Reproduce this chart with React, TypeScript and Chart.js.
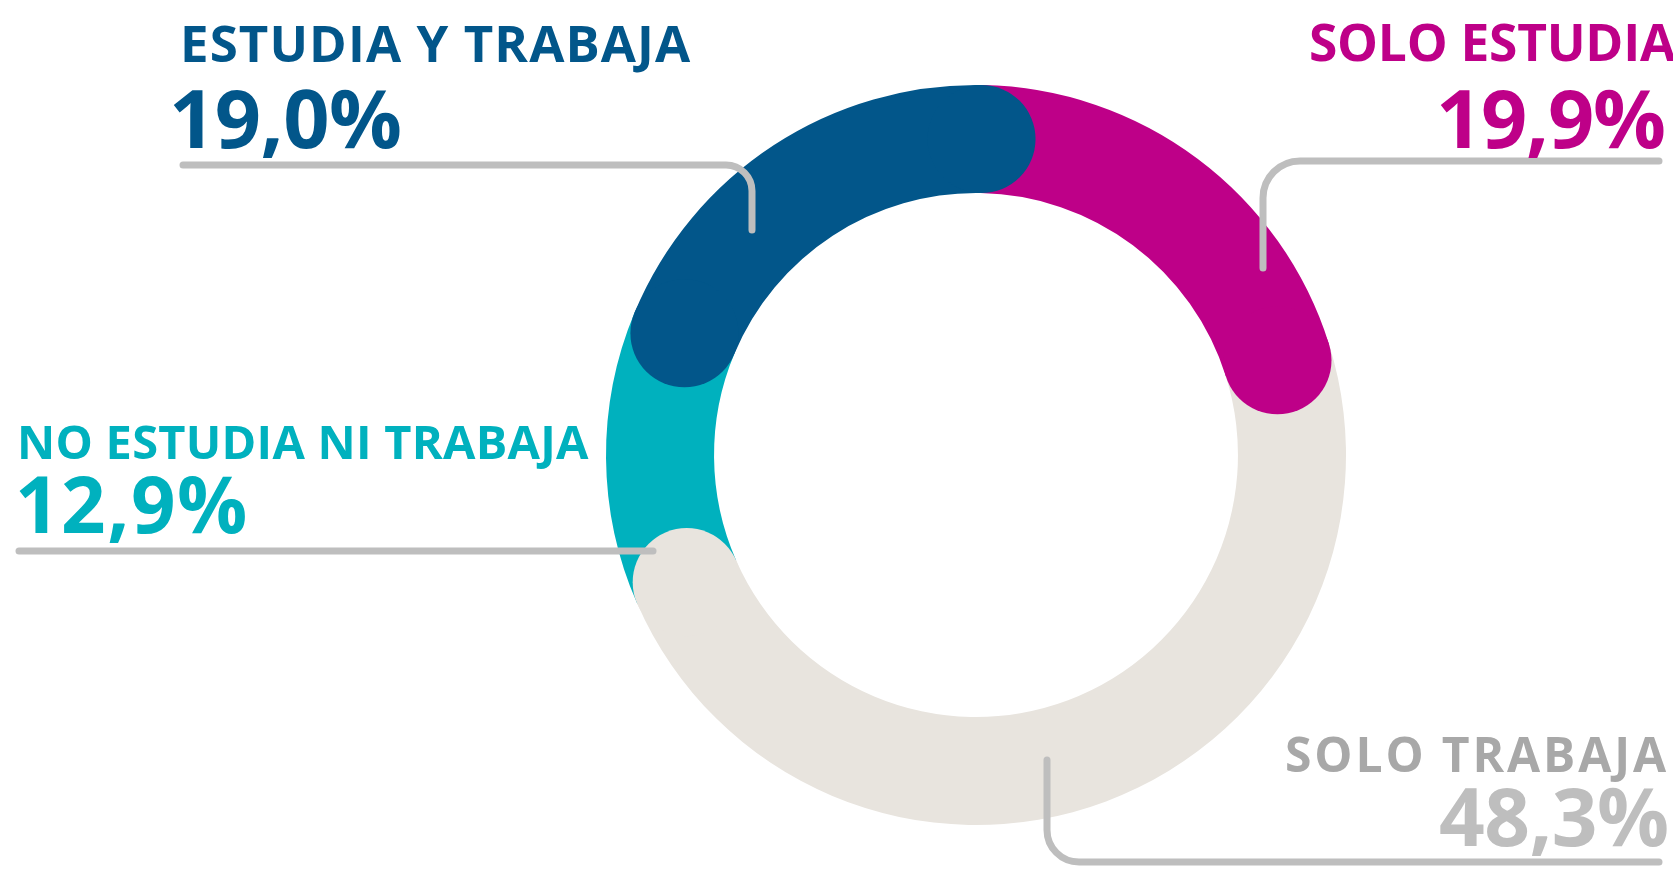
import React, { useEffect, useRef } from 'react';
import { Chart, DoughnutController, ArcElement } from 'chart.js';

Chart.register(DoughnutController, ArcElement);

// ---- data ----
const categories = ['SOLO ESTUDIA', 'SOLO TRABAJA', 'NO ESTUDIA NI TRABAJA', 'ESTUDIA Y TRABAJA'];
const values = [19.9, 48.3, 12.9, 19.0];

// ---- styles ----
const sliceColors = ['#BE0088', '#E8E4DE', '#00B1BE', '#02568A'];
const nameColors = ['#BE0088', '#A8A8A8', '#00B1BE', '#02568A'];
const valueColors = ['#BE0088', '#BEBEBE', '#00B1BE', '#02568A'];
// which ends of each slice get a round cap: [start, end]
const capEnds: [boolean, boolean][] = [
  [false, true],
  [false, true],
  [false, false],
  [true, true],
];
const capOrder = [1, 0, 3];

const W = 1673;
const H = 872;
const FONT_NAME = 'Open Sans';
const FONT = '"Open Sans", "Noto Sans", sans-serif';

// text boxes: ink left / ink right / baseline / font size / weight
type Box = { l: number; r: number; base: number; size: number; w: number };
const nameBox: Box[] = [
  { l: 1311, r: 1676, base: 62, size: 51.5, w: 700 },
  { l: 1287, r: 1667, base: 772, size: 48, w: 700 },
  { l: 21, r: 589, base: 459, size: 47, w: 700 },
  { l: 184, r: 691, base: 62, size: 51, w: 700 },
];
const valueBox: Box[] = [
  { l: 1440, r: 1664, base: 148, size: 81, w: 700 },
  { l: 1440, r: 1667, base: 846, size: 80, w: 700 },
  { l: 19, r: 245, base: 533, size: 78, w: 700 },
  { l: 173, r: 400, base: 148, size: 81, w: 700 },
];

const leaderLines: { pts: [number, number][]; r: number }[] = [
  { pts: [[183, 165], [752, 165], [752, 230]], r: 26 },
  { pts: [[1659, 161], [1263, 161], [1263, 268]], r: 37 },
  { pts: [[19, 551], [653, 551]], r: 0 },
  { pts: [[1047, 760], [1047, 862], [1659, 862]], r: 32 },
];

const fmt = (v: number) => v.toFixed(1).replace('.', ',') + '%';

let mctx: CanvasRenderingContext2D | null = null;
function fit(text: string, b: Box) {
  if (!mctx) mctx = document.createElement('canvas').getContext('2d');
  const ctx = mctx as CanvasRenderingContext2D;
  ctx.font = `${b.w} ${b.size}px "${FONT_NAME}"`;
  const m = ctx.measureText(text);
  const ink = m.actualBoundingBoxLeft + m.actualBoundingBoxRight;
  const n = Array.from(text).length;
  const spacing = n > 1 ? (b.r - b.l - ink) / (n - 1) : 0;
  const asc = m.fontBoundingBoxAscent || b.size * 1.069;
  const desc = m.fontBoundingBoxDescent || b.size * 0.293;
  const baseOff = (b.size - (asc + desc)) / 2 + asc;
  return { left: b.l + m.actualBoundingBoxLeft, top: b.base - baseOff, spacing };
}

const capsPlugin = {
  id: 'roundCaps',
  afterDatasetsDraw(chart: any) {
    const meta = chart.getDatasetMeta(0);
    const ctx = chart.ctx;
    ctx.save();
    capOrder.forEach((i) => {
      const arc = meta.data[i];
      if (!arc) return;
      const p = arc.getProps(['x', 'y', 'startAngle', 'endAngle', 'innerRadius', 'outerRadius'], true);
      const rMid = (p.innerRadius + p.outerRadius) / 2;
      const rCap = (p.outerRadius - p.innerRadius) / 2;
      ctx.fillStyle = sliceColors[i];
      const [s, e] = capEnds[i];
      const draw = (a: number) => {
        ctx.beginPath();
        ctx.arc(p.x + rMid * Math.cos(a), p.y + rMid * Math.sin(a), rCap, 0, Math.PI * 2);
        ctx.fill();
      };
      if (s) draw(p.startAngle);
      if (e) draw(p.endAngle);
    });
    ctx.restore();
  },
};

const leaderPlugin = {
  id: 'leaders',
  afterDraw(chart: any) {
    const ctx = chart.ctx;
    ctx.save();
    ctx.strokeStyle = '#BEBEBE';
    ctx.lineWidth = 7;
    ctx.lineCap = 'round';
    ctx.lineJoin = 'round';
    leaderLines.forEach(({ pts, r }) => {
      ctx.beginPath();
      ctx.moveTo(pts[0][0], pts[0][1]);
      for (let k = 1; k < pts.length - 1; k++) {
        ctx.arcTo(pts[k][0], pts[k][1], pts[k + 1][0], pts[k + 1][1], r);
      }
      const last = pts[pts.length - 1];
      ctx.lineTo(last[0], last[1]);
      ctx.stroke();
    });
    ctx.restore();
  },
};

export default function App() {
  const canvasRef = useRef<HTMLCanvasElement | null>(null);

  useEffect(() => {
    document.body.style.margin = '0';
    document.body.style.overflow = 'hidden';
    const canvas = canvasRef.current;
    if (!canvas) return;
    const chart = new Chart(canvas, {
      type: 'doughnut',
      data: {
        labels: categories,
        datasets: [
          {
            data: values,
            backgroundColor: sliceColors,
            borderWidth: 0,
          },
        ],
      },
      options: {
        responsive: false,
        animation: false,
        devicePixelRatio: 1,
        cutout: '70.8%',
        rotation: 1,
        layout: { padding: { left: 606, top: 85, right: W - 606 - 740, bottom: H - 85 - 740 } },
        plugins: { legend: { display: false }, tooltip: { enabled: false } },
        events: [],
      },
      plugins: [capsPlugin, leaderPlugin],
    });
    return () => chart.destroy();
  }, []);

  const textEl = (text: string, b: Box, color: string, key: string) => {
    const f = fit(text, b);
    return (
      <div
        key={key}
        style={{
          position: 'absolute',
          left: f.left,
          top: f.top,
          fontFamily: FONT,
          fontWeight: b.w,
          fontSize: b.size,
          lineHeight: `${b.size}px`,
          color,
          whiteSpace: 'nowrap',
          letterSpacing: f.spacing,
        }}
      >
        {text}
      </div>
    );
  };

  return (
    <div
      style={{
        position: 'absolute',
        left: 0,
        top: 0,
        width: W,
        height: H,
        overflow: 'hidden',
        background: '#ffffff',
      }}
    >
      <canvas ref={canvasRef} width={W} height={H} style={{ position: 'absolute', left: 0, top: 0, width: W, height: H }} />
      {categories.map((c, i) => textEl(c, nameBox[i], nameColors[i], 'n' + i))}
      {categories.map((c, i) => textEl(fmt(values[i]), valueBox[i], valueColors[i], 'v' + i))}
    </div>
  );
}
